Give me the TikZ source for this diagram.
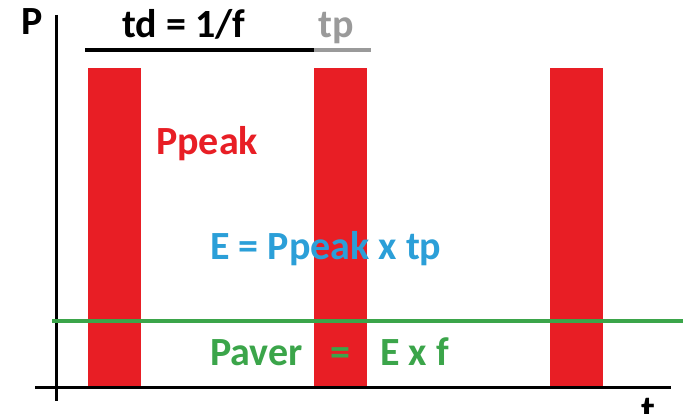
\documentclass[tikz,border=0pt]{standalone}
\usepackage{fontspec}
\setmainfont{Carlito}
\definecolor{barred}{HTML}{E81E25}
\definecolor{avggreen}{HTML}{3BA54A}
\definecolor{energyblue}{HTML}{2B9FD8}
\definecolor{tpgray}{HTML}{9A9A9A}
\tikzset{
  pulse/.style={fill=barred, draw=none},
  axisline/.style={line width=3pt, black},
  lbl/.style={font=\bfseries\fontsize{40}{44}\selectfont, inner sep=0pt, anchor=base west},
}
\begin{document}
\begin{tikzpicture}[x=1pt,y=-1pt]
\useasboundingbox[fill=white] (0,0) rectangle (683,414);
% pulses
\fill[pulse] (88,68) rectangle (141,387);
\fill[pulse] (314,68) rectangle (367,387);
\fill[pulse] (550,68) rectangle (603,387);
% axes
\coordinate (ytop) at (56,15);
\coordinate (ybot) at (56,401);
\coordinate (xl) at (35,387);
\coordinate (xr) at (671,387);
\draw[axisline] (ytop) -- (ybot);
\draw[axisline] (xl) -- (xr);
% period and pulse width markers
\coordinate (pa) at (85,50);
\coordinate (pb) at (314,50);
\coordinate (pc) at (371,50);
\draw[line width=3.5pt, black] (pa) -- (pb);
\draw[line width=3.5pt, tpgray] (pb) -- (pc);
% average power level
\coordinate (ga) at (52,321);
\coordinate (gb) at (683,321);
\draw[line width=3.5pt, avggreen] (ga) -- (gb);
% labels
\node[lbl] (p) at (21,35) {P};
\node[lbl] (t) at (641,423) {t};
\node[lbl] (td) at (122,38) {td = 1/f};
\node[lbl, text=tpgray] (tp) at (318,38) {tp};
\node[lbl, text=barred] (pk) at (156,155) {Ppeak};
\node[lbl, text=energyblue] (e) at (210,260) {E = Ppeak x tp};
\node[lbl, text=avggreen] (pav) at (210,365) {Paver};
\node[lbl, text=avggreen] (eq) at (330,365) {=};
\node[lbl, text=avggreen] (exf) at (380,365) {E x f};
\end{tikzpicture}
\end{document}
